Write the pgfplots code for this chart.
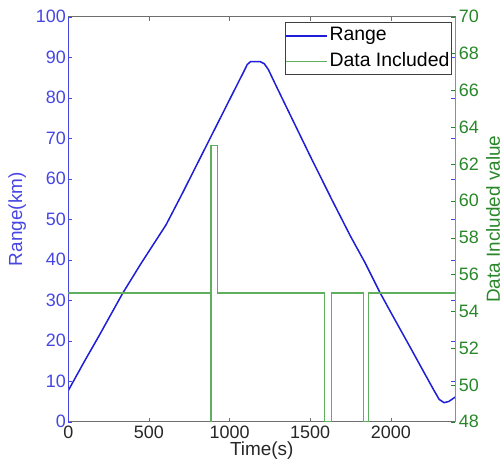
\documentclass[border=0pt]{standalone}
\usepackage{pgfplots}
\pgfplotsset{compat=1.18}
\usepackage{fontspec}
\setmainfont{Liberation Sans}

\definecolor{rangeblue}{RGB}{30,30,215}
\definecolor{axisblue}{RGB}{70,70,228}
\definecolor{datagreen}{RGB}{40,135,40}
\definecolor{stepgreen}{RGB}{95,175,95}
\definecolor{framegray}{RGB}{110,110,110}

% Range over the pass (left axis)
\pgfplotstableread{
t     r
0     7.7
100   14.9
192   21.3
337   31.7
450   39.0
606   48.6
700   55.8
800   63.7
900   71.6
1000  79.5
1080  85.8
1110  88.2
1130  88.9
1190  88.9
1215  88.4
1240  87.0
1300  82.0
1400  73.8
1500  65.6
1636  54.7
1750  45.8
1841  39.2
1934  31.8
2000  27.0
2120  18.4
2200  12.6
2264  8.0
2300  5.5
2330  4.7
2360  5.0
2400  6.1
}\rangetable

% Data-included flag (right axis)
\pgfplotstableread{
t     v
0     55
880   55
880   48
886   48
886   63
925   63
925   55
1590  55
1590  48
1631  48
1631  55
1832  55
1832  48
1861  48
1861  55
2400  55
}\datatable

\begin{document}
\begin{tikzpicture}
\pgfplotsset{
  base/.style={
    scale only axis, width=387bp, height=405bp,
    at={(0,0)}, anchor=south west,
    xmin=0, xmax=2400,
    tick align=inside, major tick length=4bp,
    /pgf/number format/assume math mode=true,
    /pgf/number format/set thousands separator={},
    scaled ticks=false,
    tick label style={font=\fontsize{18}{21}\selectfont},
    label style={font=\fontsize{19}{22}\selectfont},
  }
}
\begin{axis}[base, name=main,
  ymin=0, ymax=100, ytick={0,10,...,100},
  xtick={0,500,...,2000},
  axis line style={framegray, line width=0.9bp},
  xtick style={framegray},
  ytick style={axisblue},
  yticklabel style={text=axisblue, xshift=1bp},
  xticklabel style={text=black!85, yshift=-1bp},
  xlabel={Time(s)},
  xlabel style={text=black!85, at={(axis description cs:0.5,-0.0723)}, anchor=center},
  ylabel={Range(km)},
  ylabel style={text=axisblue, at={(axis description cs:-0.1318,0.5)}, anchor=center, rotate=0},
]
\addplot[draw=rangeblue, line width=1.5bp] table[x=t, y=r] {\rangetable};
\end{axis}
\draw[axisblue, line width=0.9bp] (main.south west) -- (main.north west);

\begin{axis}[base,
  ymin=48, ymax=70, ytick={48,50,...,70},
  axis y line*=right, axis x line=none,
  y axis line style={stepgreen, line width=0.9bp},
  ytick style={datagreen},
  yticklabel style={text=datagreen},
  ylabel={Data Included value},
  ylabel style={text=datagreen, at={(axis description cs:1.0974,0.5)}, anchor=center, rotate=0},
  legend style={at={(axis description cs:0.991,0.986)}, anchor=north east,
    draw=black!75, fill=white, line width=0.8bp, inner xsep=0bp, inner ysep=1.5bp,
    font=\fontsize{19.5}{22}\selectfont, row sep=3bp,
    nodes={inner ysep=2bp, inner xsep=2bp, text height=14bp, text depth=5bp}},
  legend cell align=left,
  legend image code/.code={\draw[#1] (-1bp,0bp) -- (40bp,0bp);},
]
\addlegendimage{draw=rangeblue, line width=1.5bp}
\addlegendentry{Range}
\addplot[draw=stepgreen, line width=1.4bp] table[x=t, y=v] {\datatable};
\addlegendentry{Data Included}
\end{axis}

\pgfresetboundingbox
\path (-68.3bp,-45.3bp) rectangle (434.7bp,421.7bp);
\end{tikzpicture}
\end{document}
